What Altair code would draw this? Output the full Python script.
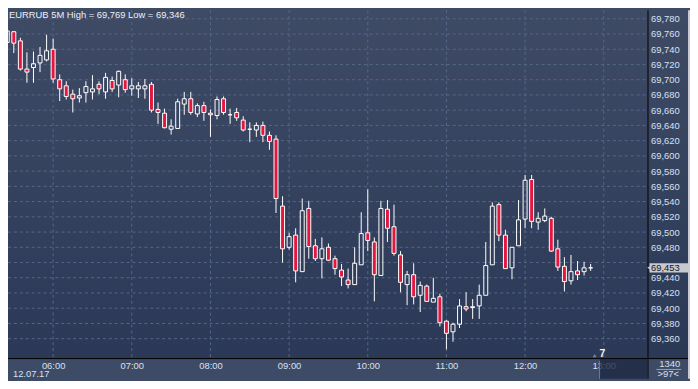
import altair as alt
import pandas as pd

# ---------------- data ----------------
TITLE = "EURRUB 5M High = 69,769 Low = 69,346"
DATE_LABEL = "12.07.17"
VOLUME_LABEL = "1340"
SPREAD_LABEL = ">97<"
MARKER_LABEL = "7"

first_bar_minute = 325   # 05:25, minutes after midnight
bar_step = 5             # 5-minute bars

# prices in points (1/1000 rouble)
opens = [69749, 69763, 69751, 69714, 69716, 69722, 69726, 69740, 69700, 69692,
         69681, 69676, 69683, 69684, 69694, 69684, 69699, 69693, 69700, 69688,
         69688, 69688, 69694, 69661, 69656, 69635, 69636, 69668, 69675, 69655,
         69666, 69656, 69653, 69675, 69654, 69657, 69647, 69635, 69634, 69640,
         69627, 69622, 69534, 69480, 69496, 69448, 69531, 69482, 69465, 69480,
         69465, 69450, 69437, 69431, 69457, 69499, 69487, 69443, 69530, 69507,
         69470, 69431, 69444, 69417, 69429, 69408, 69415, 69383, 69369, 69379,
         69402, 69401, 69403, 69417, 69457, 69536, 69496, 69453, 69482, 69517,
         69569, 69513, 69515, 69518, 69478, 69455, 69436, 69449, 69448, 69453]
highs = [69769, 69764, 69755, 69736, 69737, 69743, 69759, 69754, 69707, 69698,
         69687, 69689, 69698, 69706, 69698, 69709, 69704, 69712, 69707, 69702,
         69697, 69701, 69697, 69670, 69662, 69648, 69675, 69684, 69684, 69669,
         69671, 69661, 69678, 69678, 69662, 69663, 69652, 69644, 69644, 69645,
         69632, 69627, 69547, 69499, 69505, 69544, 69541, 69491, 69493, 69485,
         69469, 69458, 69452, 69480, 69526, 69556, 69493, 69541, 69542, 69536,
         69475, 69449, 69459, 69435, 69431, 69440, 69419, 69384, 69381, 69412,
         69421, 69412, 69431, 69487, 69539, 69539, 69503, 69480, 69542, 69575,
         69575, 69526, 69531, 69520, 69490, 69467, 69470, 69462, 69461, 69458]
lows = [69745, 69735, 69712, 69696, 69696, 69710, 69724, 69696, 69672, 69674,
        69657, 69670, 69670, 69674, 69681, 69675, 69684, 69677, 69683, 69679,
        69676, 69675, 69657, 69642, 69636, 69628, 69636, 69654, 69654, 69651,
        69646, 69625, 69648, 69654, 69642, 69646, 69632, 69618, 69625, 69618,
        69608, 69525, 69460, 69477, 69434, 69448, 69465, 69462, 69439, 69462,
        69444, 69429, 69426, 69431, 69457, 69475, 69409, 69443, 69487, 69469,
        69421, 69404, 69405, 69395, 69409, 69408, 69376, 69346, 69356, 69374,
        69396, 69386, 69386, 69417, 69457, 69488, 69452, 69438, 69482, 69505,
        69505, 69503, 69513, 69474, 69449, 69422, 69431, 69437, 69443, 69449]
closes = [69764, 69748, 69714, 69710, 69721, 69732, 69738, 69701, 69688, 69678,
          69675, 69679, 69691, 69688, 69688, 69703, 69688, 69711, 69687, 69692,
          69692, 69692, 69660, 69657, 69637, 69639, 69671, 69675, 69657, 69666,
          69657, 69654, 69674, 69657, 69654, 69650, 69634, 69635, 69640, 69627,
          69619, 69544, 69478, 69494, 69449, 69528, 69481, 69465, 69478, 69463,
          69452, 69441, 69431, 69459, 69498, 69489, 69444, 69531, 69505, 69472,
          69434, 69444, 69415, 69430, 69409, 69413, 69381, 69367, 69379, 69403,
          69399, 69402, 69417, 69456, 69534, 69496, 69452, 69480, 69516, 69568,
          69514, 69518, 69521, 69475, 69454, 69435, 69448, 69444, 69453, 69453]

y_ticks = [69.36, 69.38, 69.40, 69.42, 69.44, 69.46, 69.48, 69.50, 69.52, 69.54,
           69.56, 69.58, 69.60, 69.62, 69.64, 69.66, 69.68, 69.70, 69.72, 69.74,
           69.76, 69.78]
x_ticks = [360, 420, 480, 540, 600, 660, 720, 780]   # 06:00 ... 13:00

# ---------------- styling ----------------
FONT = "Liberation Sans"
RED = "#e3163e"
GRID = "#56668a"
LABEL = "#d8e0f0"
W, H = 647, 352          # plot area
RP, BP = 43, 21          # right / bottom panels

df = pd.DataFrame({"o": opens, "h": highs, "l": lows, "c": closes}) / 1000.0
df["minute"] = [first_bar_minute + bar_step * i for i in range(len(df))]
df["top"] = df[["o", "c"]].max(axis=1)
df["bot"] = df[["o", "c"]].min(axis=1)
df["bull"] = df["c"] >= df["o"]

last_close = df["c"].iloc[-1]
y_label_ticks = [t for t in y_ticks if abs(t - last_close) > 0.0095]

xs = alt.Scale(domain=[329.34, 809.6], nice=False, zero=False)
ys = alt.Scale(domain=[69.33453, 69.79132], nice=False, zero=False)

y_axis = alt.Axis(orient="right", values=y_label_ticks, title=None, grid=False,
                  domain=False, ticks=False, labelPadding=3, labelFont=FONT,
                  labelFontSize=9.5, labelColor=LABEL, zindex=1,
                  labelOverlap=False, labelFlush=False,
                  labelExpr="replace(format(datum.value, '.3f'), '.', ',')")
x_axis = alt.Axis(orient="bottom", values=x_ticks, title=None, grid=False,
                  domain=False, ticks=False, labelPadding=3, labelFont=FONT,
                  labelFontSize=9.5, labelColor=LABEL, labelOverlap=False,
                  labelFlush=False,
                  labelExpr="(floor(datum.value/60) < 10 ? '0' : '') + floor(datum.value/60) + ':00'")

X = lambda f: alt.X(f, scale=xs, axis=x_axis)
Y = lambda f: alt.Y(f, scale=ys, axis=y_axis)

one = pd.DataFrame({"k": [0]})

grad = alt.LinearGradient(gradient="linear", x1=0, x2=0, y1=0, y2=1,
                          stops=[alt.GradientStop(color="#3f4b65", offset=0),
                                 alt.GradientStop(color="#2b3957", offset=1)])

bg = alt.Chart(one).mark_rect(fill=grad).encode(
    x=alt.value(0), x2=alt.value(W + RP), y=alt.value(0), y2=alt.value(H))

ygrid = alt.Chart(pd.DataFrame({"v": y_ticks})).mark_rule(
    color=GRID, strokeDash=[3, 3], strokeWidth=1).encode(
    y=Y("v:Q"), x=alt.value(0), x2=alt.value(W))

xgrid = alt.Chart(pd.DataFrame({"v": x_ticks})).mark_rule(
    color=GRID, strokeDash=[3, 3], strokeWidth=1).encode(
    x=X("v:Q"), y=alt.value(0), y2=alt.value(H))

wick_up = alt.Chart(df).mark_rule(color="white", strokeWidth=1, clip=True).encode(
    x=X("minute:Q"), y=Y("h:Q"), y2="top:Q")
wick_dn = alt.Chart(df).mark_rule(color="white", strokeWidth=1, clip=True).encode(
    x=X("minute:Q"), y=Y("bot:Q"), y2="l:Q")

bear = alt.Chart(df).transform_filter("!datum.bull").mark_bar(
    size=4, fill=RED, stroke="white", strokeWidth=1, clip=True).encode(
    x=X("minute:Q"), y=Y("o:Q"), y2="c:Q")
bull = alt.Chart(df).transform_filter("datum.bull").mark_bar(
    size=4, fill="#2f3c58", fillOpacity=0, stroke="white", strokeWidth=1, clip=True).encode(
    x=X("minute:Q"), y=Y("o:Q"), y2="c:Q")

vline = alt.Chart(one).mark_rule(color="#000000", strokeWidth=1).encode(
    x=alt.value(W + 0.5), y=alt.value(0), y2=alt.value(H + BP))
hline = alt.Chart(one).mark_rule(color="#000000", strokeWidth=1).encode(
    y=alt.value(H + 0.5), x=alt.value(0), x2=alt.value(W + RP))

overlay = alt.Chart(one).mark_rect(fill="#1e2942", opacity=0.8).encode(
    x=alt.value(599), x2=alt.value(W), y=alt.value(H + 1), y2=alt.value(H + BP))
overlay_edge = alt.Chart(one).mark_rule(color="#6f7a90", strokeWidth=1).encode(
    x=alt.value(598.5), y=alt.value(H + 3), y2=alt.value(H + BP))

right_border = alt.Chart(one).mark_rect(fill="#c9ccd3").encode(
    x=alt.value(W + RP - 2), x2=alt.value(W + RP), y=alt.value(0), y2=alt.value(H + BP))

last = df.tail(1).copy()
last["bt"] = last["c"] + 0.006
last["bb"] = last["c"] - 0.006
last["lab"] = ["{:.3f}".format(v).replace(".", ",") for v in last["c"]]

pbox = alt.Chart(last).mark_rect(fill="#c6c9d0").encode(
    x=alt.value(W + 2), x2=alt.value(W + RP - 2), y=Y("bt:Q"), y2="bb:Q")
parrow = alt.Chart(last).mark_point(shape="triangle-left", filled=True, size=18,
                                    color="#c6c9d0", opacity=1).encode(
    x=alt.value(W + 1.5), y=Y("c:Q"))
ptext = alt.Chart(last).mark_text(align="left", baseline="middle", font=FONT,
                                  fontSize=9.5, color="#151515").encode(
    x=alt.value(W + 3.5), y=Y("c:Q"), text="lab:N")

def label(txt, x, y, align="left", size=9.5, color=LABEL, weight="normal", baseline="middle"):
    return alt.Chart(pd.DataFrame({"t": [txt]})).mark_text(
        align=align, baseline=baseline, font=FONT, fontSize=size, color=color,
        fontWeight=weight).encode(x=alt.value(x), y=alt.value(y), text="t:N")

title = label(TITLE, 1, 7.6, color="#eef1f7", baseline="alphabetic")
date = label(DATE_LABEL, 5, 368.5)
vol = label(VOLUME_LABEL, 680, 358, align="right")
spread = label(SPREAD_LABEL, 668, 368.5, align="center")
sep = alt.Chart(one).mark_rule(color="#9aa4b8", strokeWidth=1).encode(
    y=alt.value(363.5), x=alt.value(656), x2=alt.value(681))
marker = label(MARKER_LABEL, 601.3, 348, align="center", size=10.5, color="#f2f4f8", weight="bold")
marker_tri = alt.Chart(one).mark_point(shape="triangle-up", filled=True, size=14,
                                       color="#7d869a", opacity=1).encode(
    x=alt.value(593.5), y=alt.value(349.5))

chart = alt.layer(
    bg, ygrid, xgrid, wick_up, wick_dn, bear, bull,
    vline, hline, overlay, overlay_edge, right_border,
    pbox, parrow, ptext, title, date, vol, spread, sep, marker, marker_tri
).properties(
    width=W, height=H,
    padding={"left": 0, "top": 0, "right": RP, "bottom": BP},
    autosize=alt.AutoSizeParams(type="none"),
    background="#3e4b66",
).configure_view(stroke=None)

chart.save("out.html", embed_options={"renderer": "svg", "actions": False})
